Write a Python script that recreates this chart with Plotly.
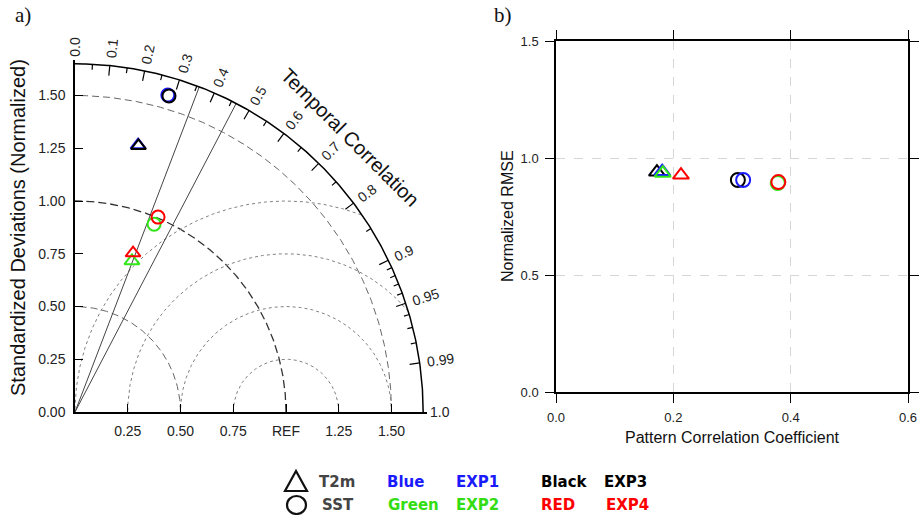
import numpy as np
import plotly.graph_objects as go

W, H = 919, 515

# ---------------- data ----------------
exps = ["EXP3", "EXP1", "EXP2", "EXP4"]
exp_colors = ["#000000", "#1a1aff", "#33e619", "#ff0000"]

# Taylor diagram (temporal correlation, normalized std)
t2m_corr = [0.232, 0.230, 0.353, 0.343]
t2m_std = [1.297, 1.300, 0.765, 0.802]
sst_corr = [0.285, 0.281, 0.388, 0.392]
sst_std = [1.563, 1.565, 0.966, 1.004]

# Pattern correlation vs normalized RMSE
t2m_pcc = [0.172, 0.181, 0.182, 0.213]
t2m_rmse = [0.940, 0.942, 0.935, 0.927]
sst_pcc = [0.310, 0.319, 0.378, 0.379]
sst_rmse = [0.906, 0.906, 0.893, 0.897]

# Taylor frame definitions
max_std = 1.65
std_arcs = [0.5, 1.0, 1.5]
rms_arcs = [0.25, 0.5, 0.75, 1.0]
sig_corr = [0.357, 0.463]
major_corr = [0.1, 0.2, 0.3, 0.4, 0.5, 0.6, 0.7, 0.8, 0.9, 0.95, 0.99]
minor_corr = [0.05, 0.15, 0.25, 0.35, 0.45, 0.55, 0.65, 0.75, 0.85,
              0.91, 0.92, 0.93, 0.94, 0.96, 0.97, 0.98]
label_corr = [0.0, 0.1, 0.2, 0.3, 0.4, 0.5, 0.6, 0.7, 0.8, 0.9, 0.95, 0.99, 1.0]
label_text = ["0.0", "0.1", "0.2", "0.3", "0.4", "0.5", "0.6", "0.7", "0.8",
              "0.9", "0.95", "0.99", "1.0"]
std_ticks = [0.25, 0.5, 0.75, 1.0, 1.25, 1.5]
std_ticktext = ["0.25", "0.50", "0.75", "REF", "1.25", "1.50"]
y_ticks = [0.0, 0.25, 0.5, 0.75, 1.0, 1.25, 1.5]
y_ticktext = ["0.00", "0.25", "0.50", "0.75", "1.00", "1.25", "1.50"]

# ---------------- figure ----------------
fig = go.Figure()
FONT = "Liberation Sans, Arial, Helvetica, sans-serif"
UNIT = 211.0  # pixels per normalized std unit
RANGE_MAX = 1.67
ox, oy = 75, 412


def line(x, y, color, width=1, dash="solid"):
    fig.add_trace(go.Scatter(x=x, y=y, mode="lines", xaxis="x", yaxis="y",
                             line=dict(color=color, width=width, dash=dash),
                             hoverinfo="skip", showlegend=False))


# std arcs
th = np.linspace(0, np.pi / 2, 300)
for r in std_arcs:
    if r == 1.0:
        line(r * np.cos(th), r * np.sin(th), "#333333", 1.3, "8px,4px")
    else:
        line(r * np.cos(th), r * np.sin(th), "#666666", 1, "7px,4px")

# RMS arcs around REF
th2 = np.linspace(0, np.pi, 600)
for r in rms_arcs:
    xs = 1 + r * np.cos(th2)
    ys = r * np.sin(th2)
    inside = xs ** 2 + ys ** 2 <= max_std ** 2
    xs = np.where(inside, xs, np.nan)
    ys = np.where(inside, ys, np.nan)
    line(xs, ys, "#808080", 1, "dot")

# significance radial lines
for c in sig_corr:
    a = np.arccos(c)
    line([0, max_std * np.cos(a)], [0, max_std * np.sin(a)], "#444444", 1)

# outer arc
line(max_std * np.cos(th), max_std * np.sin(th), "#000000", 1.5)

# arc ticks
tx, ty = [], []
for clist, ln in ((major_corr, 0.048), (minor_corr, 0.026)):
    for c in clist:
        a = np.arccos(c)
        tx += [max_std * np.cos(a), (max_std - ln) * np.cos(a), None]
        ty += [max_std * np.sin(a), (max_std - ln) * np.sin(a), None]
line(tx, ty, "#000000", 1.2)

# Taylor markers (EXP1, EXP2, EXP3, EXP4 drawing order)
for i in [1, 2, 0, 3]:
    e = exps[i]
    a = np.arccos(t2m_corr[i])
    fig.add_trace(go.Scatter(x=[t2m_std[i] * np.cos(a)], y=[t2m_std[i] * np.sin(a)],
                             mode="markers", xaxis="x", yaxis="y", cliponaxis=False,
                             marker=dict(symbol="triangle-up-open", size=13,
                                         color=exp_colors[i], line=dict(width=2, color=exp_colors[i])),
                             name=e + " T2m", showlegend=False))
    a = np.arccos(sst_corr[i])
    fig.add_trace(go.Scatter(x=[sst_std[i] * np.cos(a)], y=[sst_std[i] * np.sin(a)],
                             mode="markers", xaxis="x", yaxis="y", cliponaxis=False,
                             marker=dict(symbol="circle-open", size=13,
                                         color=exp_colors[i], line=dict(width=2, color=exp_colors[i])),
                             name=e + " SST", showlegend=False))

# right panel markers
for i, e in enumerate(exps):
    fig.add_trace(go.Scatter(x=[t2m_pcc[i]], y=[t2m_rmse[i]], mode="markers",
                             xaxis="x2", yaxis="y2", cliponaxis=False,
                             marker=dict(symbol="triangle-up-open", size=14,
                                         color=exp_colors[i], line=dict(width=2, color=exp_colors[i])),
                             name=e + " T2m", showlegend=False))
    fig.add_trace(go.Scatter(x=[sst_pcc[i]], y=[sst_rmse[i]], mode="markers",
                             xaxis="x2", yaxis="y2", cliponaxis=False,
                             marker=dict(symbol="circle-open", size=14,
                                         color=exp_colors[i], line=dict(width=2, color=exp_colors[i])),
                             name=e + " SST", showlegend=False))

ann = []


def P(xp, yp):
    return xp / W, 1 - yp / H


def D2P(xd, yd):
    # Taylor data coordinates -> paper fraction
    return P(ox + xd * UNIT, oy - yd * UNIT)


# angular labels
for c, t in zip(label_corr, label_text):
    a = np.arccos(c)
    w = 7.4 * len(t)
    rc = max_std + (6 + w / 2) / UNIT
    x, y = D2P(rc * np.cos(a), rc * np.sin(a))
    ann.append(dict(x=x, y=y, xref="paper", yref="paper", text=t,
                    showarrow=False, textangle=-np.degrees(a), xanchor="center",
                    yanchor="middle", font=dict(family=FONT, size=14, color="#222")))
# Temporal correlation title
rt = 1.84
x, y = D2P(rt * np.cos(np.pi / 4), rt * np.sin(np.pi / 4))
ann.append(dict(x=x, y=y, xref="paper", yref="paper", xanchor="center", yanchor="middle",
                text="Temporal Correlation", showarrow=False, textangle=45,
                font=dict(family=FONT, size=20, color="#111")))


def pann(xp, yp, text, size, color="#111", angle=0, family=FONT, xanchor="center", bold=False):
    x, y = P(xp, yp)
    if bold:
        text = "<b>" + text + "</b>"
    ann.append(dict(x=x, y=y, xref="paper", yref="paper", text=text, showarrow=False,
                    textangle=angle, xanchor=xanchor, yanchor="middle",
                    font=dict(family=family, size=size, color=color)))


pann(18, 228, "Standardized Deviations (Normalized)", 20, angle=-90)
pann(507, 216, "Normalized RMSE", 16, angle=-90)
pann(732, 437, "Pattern Correlation Coefficient", 16)
pann(23, 15, "a)", 21, family="Liberation Serif, Times New Roman, serif")
pann(503, 15, "b)", 21, family="Liberation Serif, Times New Roman, serif")

LF = "DejaVu Sans, Verdana, sans-serif"
pann(317, 482, "T2m", 15, "#444444", family=LF, xanchor="left", bold=True)
pann(320, 505, "SST", 15, "#444444", family=LF, xanchor="left", bold=True)
pann(385, 482, "Blue", 15, "#1a1aff", family=LF, xanchor="left", bold=True)
pann(386, 505, "Green", 15, "#33dd11", family=LF, xanchor="left", bold=True)
pann(454, 482, "EXP1", 15, "#1a1aff", family=LF, xanchor="left", bold=True)
pann(454, 505, "EXP2", 15, "#33dd11", family=LF, xanchor="left", bold=True)
pann(539, 482, "Black", 15, "#000000", family=LF, xanchor="left", bold=True)
pann(539, 505, "RED", 15, "#ff0000", family=LF, xanchor="left", bold=True)
pann(602, 482, "EXP3", 15, "#000000", family=LF, xanchor="left", bold=True)
pann(604, 505, "EXP4", 15, "#ff0000", family=LF, xanchor="left", bold=True)

shapes = []
# legend glyphs
x0, y0 = P(285, 491)
x1, _ = P(307, 491)
xm, ym = P(296, 471)
shapes.append(dict(type="path", xref="paper", yref="paper",
                   path=f"M {x0} {y0} L {x1} {y0} L {xm} {ym} Z",
                   line=dict(color="#111", width=2.2)))
cx0, cy0 = P(287, 514)
cx1, cy1 = P(306, 496)
shapes.append(dict(type="circle", xref="paper", yref="paper", x0=cx0, y0=cy0, x1=cx1, y1=cy1,
                   line=dict(color="#111", width=2.2)))

fig.update_layout(
    width=W, height=H, margin=dict(l=0, r=0, t=0, b=0, autoexpand=False),
    paper_bgcolor="white", plot_bgcolor="white",
    annotations=ann, shapes=shapes, showlegend=False,
    xaxis=dict(domain=[ox / W, (ox + RANGE_MAX * UNIT) / W], range=[0, RANGE_MAX],
               anchor="y", showgrid=False, zeroline=False, showline=True, automargin=False,
               linecolor="black", linewidth=1.5, ticks="inside", ticklen=8,
               tickcolor="black", tickwidth=1, tickmode="array", tickvals=std_ticks,
               ticktext=std_ticktext, ticklabelstandoff=5,
               tickfont=dict(family=FONT, size=14, color="#222")),
    yaxis=dict(domain=[(H - oy) / H, (H - oy + RANGE_MAX * UNIT) / H], range=[0, RANGE_MAX],
               anchor="x", showgrid=False, zeroline=False, showline=True, automargin=False,
               linecolor="black", linewidth=1.5, ticks="inside", ticklen=8,
               tickcolor="black", tickwidth=1, tickmode="array", tickvals=y_ticks,
               ticktext=y_ticktext, ticklabelstandoff=5,
               tickfont=dict(family=FONT, size=14, color="#222")),
    xaxis2=dict(domain=[556 / W, 908 / W], range=[0, 0.6], anchor="y2", automargin=False,
                tickmode="array", tickvals=[0, 0.2, 0.4, 0.6],
                ticktext=["0.0", "0.2", "0.4", "0.6"],
                showgrid=True, gridcolor="#d6d6d6", griddash="dash", gridwidth=1,
                zeroline=False, showline=True, mirror="ticks", linecolor="black",
                linewidth=1.5, ticks="outside", ticklen=9, tickcolor="black",
                ticklabelstandoff=4,
                tickfont=dict(family=FONT, size=13, color="#222")),
    yaxis2=dict(domain=[123 / H, 474 / H], range=[0, 1.5], anchor="x2", automargin=False,
                tickmode="array", tickvals=[0, 0.5, 1.0, 1.5],
                ticktext=["0.0", "0.5", "1.0", "1.5"],
                showgrid=True, gridcolor="#d6d6d6", griddash="dash", gridwidth=1,
                zeroline=False, showline=True, mirror="ticks", linecolor="black",
                linewidth=1.5, ticks="outside", ticklen=9, tickcolor="black",
                ticklabelstandoff=4,
                tickfont=dict(family=FONT, size=13, color="#222")),
)

fig.write_html("out.html", config={"displayModeBar": False},
               post_script="document.body.style.margin='0';document.body.style.padding='0';"
                           "document.documentElement.style.overflow='hidden';")
